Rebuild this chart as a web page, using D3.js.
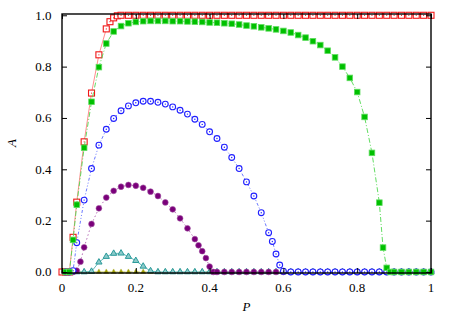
<!DOCTYPE html>
<html>
<head>
<meta charset="utf-8">
<script src="https://cdn.jsdelivr.net/npm/d3@7"></script>
<style>
  html, body { margin: 0; padding: 0; background: #fff; }
  svg { display: block; }
</style>
</head>
<body>
<svg id="chart"></svg>
<script>
// ---- data ----
const xTicks = [0, 0.2, 0.4, 0.6, 0.8, 1];
const yTicks = [0, 0.2, 0.4, 0.6, 0.8, 1.0];
const xTickLabels = ['0', '0.2', '0.4', '0.6', '0.8', '1'];
const yTickLabels = ['0.0', '0.2', '0.4', '0.6', '0.8', '1.0'];

const redP = [0, 0.01, 0.02, 0.03, 0.04, 0.06, 0.08, 0.10, 0.12, 0.13, 0.14, 0.15, 0.16, 0.18, 0.20,
  0.22, 0.24, 0.26, 0.28, 0.30, 0.32, 0.34, 0.36, 0.38, 0.40, 0.42, 0.44, 0.46, 0.48, 0.50,
  0.52, 0.54, 0.56, 0.58, 0.60, 0.62, 0.64, 0.66, 0.68, 0.70, 0.72, 0.74, 0.76, 0.78, 0.80,
  0.82, 0.84, 0.86, 0.88, 0.90, 0.92, 0.94, 0.96, 0.98, 1.00];
const redA = [0, 0, 0, 0.135, 0.272, 0.507, 0.697, 0.846, 0.947, 0.975, 0.990, 0.998, 1, 1, 1,
  1, 1, 1, 1, 1, 1, 1, 1, 1, 1, 1, 1, 1, 1, 1,
  1, 1, 1, 1, 1, 1, 1, 1, 1, 1, 1, 1, 1, 1, 1,
  1, 1, 1, 1, 1, 1, 1, 1, 1, 1];

const greenP = [0.01, 0.02, 0.03, 0.04, 0.06, 0.08, 0.10, 0.12, 0.14, 0.16, 0.18, 0.20,
  0.22, 0.24, 0.26, 0.28, 0.30, 0.32, 0.34, 0.36, 0.38, 0.40, 0.42, 0.44, 0.46, 0.48, 0.50,
  0.52, 0.54, 0.56, 0.58, 0.60, 0.62, 0.64, 0.66, 0.68, 0.70, 0.72, 0.74, 0.76, 0.78, 0.80,
  0.82, 0.84, 0.86, 0.87, 0.88, 0.89, 0.90, 0.92, 0.94, 0.96, 0.98, 1.00];
const greenA = [0, 0, 0.125, 0.262, 0.484, 0.663, 0.798, 0.890, 0.937, 0.958, 0.969, 0.974,
  0.977, 0.978, 0.978, 0.978, 0.977, 0.977, 0.976, 0.975, 0.974, 0.972, 0.971, 0.969, 0.967, 0.964, 0.960,
  0.957, 0.953, 0.949, 0.945, 0.939, 0.933, 0.923, 0.913, 0.899, 0.884, 0.862, 0.836, 0.800, 0.756, 0.701,
  0.604, 0.464, 0.270, 0.095, 0.016, 0, 0, 0, 0, 0, 0, 0];

const blueP = [0.01, 0.02, 0.03, 0.04, 0.06, 0.08, 0.10, 0.12, 0.14, 0.16, 0.18, 0.20,
  0.22, 0.24, 0.26, 0.28, 0.30, 0.32, 0.34, 0.36, 0.38, 0.40, 0.42, 0.44, 0.46, 0.48, 0.50,
  0.52, 0.54, 0.56, 0.57, 0.58, 0.59, 0.60, 0.62, 0.64, 0.66, 0.68, 0.70, 0.72, 0.74, 0.76, 0.78, 0.80,
  0.82, 0.84, 0.86, 0.88, 0.90, 0.92, 0.94, 0.96, 0.98, 1.00];
const blueA = [0, 0, 0.005, 0.114, 0.280, 0.403, 0.494, 0.556, 0.598, 0.628, 0.647, 0.659,
  0.665, 0.665, 0.661, 0.654, 0.643, 0.630, 0.615, 0.595, 0.575, 0.546, 0.520, 0.486, 0.446, 0.403, 0.351,
  0.296, 0.231, 0.153, 0.119, 0.070, 0.027, 0.003, 0, 0, 0, 0, 0, 0, 0, 0, 0, 0,
  0, 0, 0, 0, 0, 0, 0, 0, 0, 0];

const purpleP = [0.01, 0.02, 0.03, 0.04, 0.05, 0.06, 0.08, 0.10, 0.12, 0.14, 0.16, 0.18, 0.20,
  0.22, 0.24, 0.26, 0.28, 0.30, 0.32, 0.34, 0.36, 0.37, 0.38, 0.39, 0.40, 0.41, 0.42, 0.44, 0.46, 0.48, 0.50,
  0.52, 0.54, 0.56, 0.58, 0.60, 0.62, 0.64, 0.66, 0.68, 0.70, 0.72, 0.74, 0.76, 0.78, 0.80,
  0.82, 0.84, 0.86, 0.88, 0.90, 0.92, 0.94, 0.96, 0.98, 1.00];
const purpleA = [0, 0, 0, 0.005, 0.040, 0.096, 0.187, 0.248, 0.290, 0.316, 0.332, 0.339, 0.336,
  0.328, 0.313, 0.296, 0.271, 0.244, 0.209, 0.170, 0.128, 0.104, 0.081, 0.054, 0.021, 0, 0, 0, 0, 0, 0,
  0, 0, 0, 0, 0, 0, 0, 0, 0, 0, 0, 0, 0, 0, 0,
  0, 0, 0, 0, 0, 0, 0, 0, 0, 0];

const tealP = [0.01, 0.02, 0.04, 0.06, 0.08, 0.10, 0.12, 0.14, 0.16, 0.18, 0.20,
  0.22, 0.24, 0.26, 0.28, 0.30, 0.32, 0.34, 0.36, 0.38, 0.40, 0.42, 0.44, 0.46, 0.48, 0.50,
  0.52, 0.54, 0.56, 0.58, 0.60, 0.62, 0.64, 0.66, 0.68, 0.70, 0.72, 0.74, 0.76, 0.78, 0.80,
  0.82, 0.84, 0.86, 0.88, 0.90, 0.92, 0.94, 0.96, 0.98, 1.00];
const tealA = [0, 0, 0, 0, 0.002, 0.038, 0.060, 0.072, 0.073, 0.060, 0.044,
  0.022, 0.004, 0, 0, 0, 0, 0, 0, 0, 0, 0, 0, 0, 0, 0,
  0, 0, 0, 0, 0, 0, 0, 0, 0, 0, 0, 0, 0, 0, 0,
  0, 0, 0, 0, 0, 0, 0, 0, 0, 0];

const oliveP = [0.01, 0.02, 0.04, 0.06, 0.08, 0.10, 0.12, 0.14, 0.16, 0.18, 0.20,
  0.22, 0.24, 0.26, 0.28, 0.30, 0.32, 0.34, 0.36, 0.38, 0.40, 0.42, 0.44, 0.46, 0.48, 0.50,
  0.52, 0.54, 0.56, 0.58, 0.60, 0.62, 0.64, 0.66, 0.68, 0.70, 0.72, 0.74, 0.76, 0.78, 0.80,
  0.82, 0.84, 0.86, 0.88, 0.90, 0.92, 0.94, 0.96, 0.98, 1.00];
const oliveA = [0, 0, 0, 0, 0, 0, 0, 0, 0, 0, 0,
  0, 0, 0, 0, 0, 0, 0, 0, 0, 0, 0, 0, 0, 0, 0,
  0, 0, 0, 0, 0, 0, 0, 0, 0, 0, 0, 0, 0, 0, 0,
  0, 0, 0, 0, 0, 0, 0, 0, 0, 0];

// draw order: first at the bottom
const series = [
  { name: 'red', P: redP, A: redA, color: '#f01818', line: '#ff8080', dash: null, marker: 'openSquare' },
  { name: 'olive', P: oliveP, A: oliveA, color: '#9a9a00', line: '#c0c040', dash: '4,3', marker: 'fillTriangle' },
  { name: 'teal', P: tealP, A: tealA, color: '#2a9a9a', line: '#50b0b0', dash: null, marker: 'openTriangle' },
  { name: 'purple', P: purpleP, A: purpleA, color: '#7a007a', line: '#b060b0', dash: '1.5,2.5', marker: 'fillCircle' },
  { name: 'blue', P: blueP, A: blueA, color: '#2020ff', line: '#5a6aff', dash: '3,2,1,2,1,2', marker: 'openCircle' },
  { name: 'green', P: greenP, A: greenA, color: '#00c000', line: '#50d850', dash: '5,2,1,2', marker: 'fillSquare' }
];

const serif = '"Liberation Serif", "Times New Roman", Times, "DejaVu Serif", serif';

// ---- chart ----
const W = 463, H = 315;
const svg = d3.select('#chart').attr('width', W).attr('height', H);

const x = d3.scaleLinear().domain([0, 1]).range([62, 431]);
const y = d3.scaleLinear().domain([-0.004, 1.005]).range([273, 14]);

const plot = svg.append('g');

const line = d3.line().x(d => x(d[0])).y(d => y(d[1]));

series.forEach(s => {
  const pts = s.P.map((p, i) => [p, s.A[i]]);
  const g = plot.append('g').attr('class', 'series ' + s.name);

  g.append('path')
    .datum(pts)
    .attr('d', line)
    .attr('fill', 'none')
    .attr('stroke', s.line)
    .attr('stroke-width', 0.9)
    .attr('stroke-dasharray', s.dash);

  const m = g.selectAll('.pt').data(pts).join('g')
    .attr('class', 'pt')
    .attr('transform', d => `translate(${x(d[0])},${y(d[1])})`);

  if (s.marker === 'openSquare') {
    m.append('rect').attr('x', -3).attr('y', -3).attr('width', 6).attr('height', 6)
      .attr('fill', '#fff').attr('stroke', s.color).attr('stroke-width', 1.1);
    m.append('circle').attr('r', 0.6).attr('fill', s.color);
  } else if (s.marker === 'fillSquare') {
    m.append('rect').attr('x', -2.8).attr('y', -2.8).attr('width', 5.6).attr('height', 5.6)
      .attr('fill', s.color).attr('stroke', '#60dd60').attr('stroke-width', 0.8);
  } else if (s.marker === 'openCircle') {
    m.append('circle').attr('r', 2.9)
      .attr('fill', '#fff').attr('stroke', s.color).attr('stroke-width', 1.1);
    m.append('circle').attr('r', 0.7).attr('fill', s.color);
  } else if (s.marker === 'fillCircle') {
    m.append('circle').attr('r', 2.9)
      .attr('fill', s.color).attr('stroke', '#a050a0').attr('stroke-width', 0.6);
  } else if (s.marker === 'openTriangle') {
    m.append('path').attr('d', d3.symbol().type(d3.symbolTriangle).size(17)())
      .attr('fill', '#8ccaca').attr('stroke', s.color).attr('stroke-width', 1);
  } else if (s.marker === 'fillTriangle') {
    m.append('path').attr('d', d3.symbol().type(d3.symbolTriangle).size(12)())
      .attr('fill', s.color).attr('stroke', '#b8b840').attr('stroke-width', 0.5);
  }
});

// frame
svg.append('rect')
  .attr('x', x(0)).attr('y', 14)
  .attr('width', x(1) - x(0)).attr('height', 273 - 14)
  .attr('fill', 'none').attr('stroke', '#000').attr('stroke-width', 1.4);

// inward ticks on all four sides
const tickLen = 5;
const xAxisB = d3.axisBottom(x).tickValues(xTicks).tickSize(-tickLen).tickFormat('');
const xAxisT = d3.axisTop(x).tickValues(xTicks).tickSize(-tickLen).tickFormat('');
const yAxisL = d3.axisLeft(y).tickValues(yTicks).tickSize(-tickLen).tickFormat('');
const yAxisR = d3.axisRight(y).tickValues(yTicks).tickSize(-tickLen).tickFormat('');

[[xAxisB, `translate(0,273)`], [xAxisT, `translate(0,14)`],
 [yAxisL, `translate(${x(0)},0)`], [yAxisR, `translate(${x(1)},0)`]].forEach(([ax, tr]) => {
  svg.append('g').attr('transform', tr).call(ax)
    .call(g => g.select('.domain').remove())
    .call(g => g.selectAll('line').attr('stroke', '#000').attr('stroke-width', 1));
});

// tick labels
svg.append('g').selectAll('text').data(xTicks).join('text')
  .attr('font-family', serif).attr('font-size', 13).attr('fill', '#000')
  .attr('x', d => x(d)).attr('y', 291.5)
  .attr('text-anchor', 'middle')
  .text((d, i) => xTickLabels[i]);

svg.append('g').selectAll('text').data(yTicks).join('text')
  .attr('font-family', serif).attr('font-size', 13).attr('fill', '#000')
  .attr('x', 51.5).attr('y', d => y(d) + 4.4)
  .attr('text-anchor', 'end')
  .text((d, i) => yTickLabels[i]);

// axis titles
svg.append('text')
  .attr('font-family', serif).attr('font-size', 13).attr('font-style', 'italic')
  .attr('x', 246.5).attr('y', 311)
  .attr('text-anchor', 'middle')
  .text('P');

svg.append('text')
  .attr('font-family', serif).attr('font-size', 13).attr('font-style', 'italic')
  .attr('transform', 'translate(16,143) rotate(-90)')
  .attr('text-anchor', 'middle')
  .text('A');
</script>
</body>
</html>
